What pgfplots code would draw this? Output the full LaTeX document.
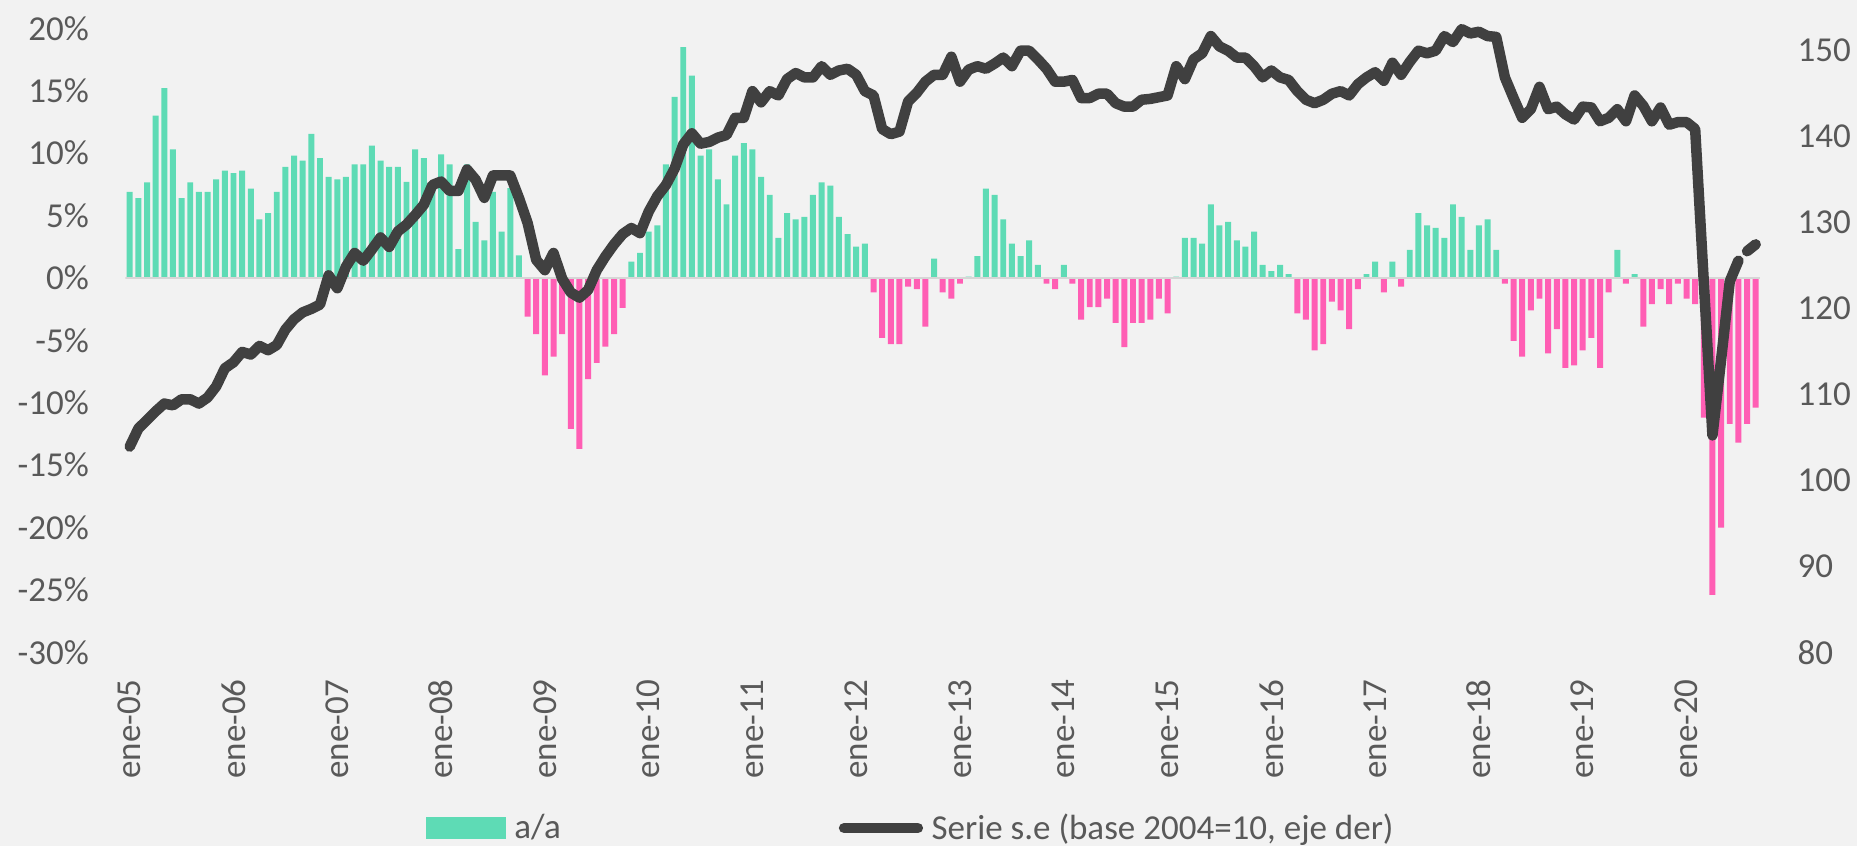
\documentclass[border=0pt]{standalone}
\usepackage{fontspec}
\setmainfont{Carlito}
\usepackage{pgfplots}
\usepackage{pgfplotstable}
\pgfplotsset{compat=1.18}

\definecolor{fondo}{HTML}{F2F2F2}
\definecolor{verde}{HTML}{5EDBB5}
\definecolor{rosa}{HTML}{FF5EB4}
\definecolor{linea}{HTML}{404040}
\definecolor{txt}{HTML}{595959}
\definecolor{cero}{HTML}{D6D6D6}

% variacion a/a (%), mes 0 = ene-05
\pgfplotstableread{
i v
0 6.9
1 6.4
2 7.65
3 13.0
4 15.2
5 10.3
6 6.4
7 7.65
8 6.9
9 6.9
10 7.9
11 8.6
12 8.4
13 8.6
14 7.15
15 4.7
16 5.2
17 6.9
18 8.9
19 9.8
20 9.4
21 11.55
22 9.6
23 8.1
24 7.9
25 8.1
26 9.1
27 9.1
28 10.6
29 9.4
30 8.9
31 8.9
32 7.7
33 10.3
34 9.6
35 7.2
36 9.9
37 9.1
38 2.3
39 9.1
40 4.5
41 3.0
42 6.9
43 3.7
44 7.2
45 1.8
46 -3.1
47 -4.5
48 -7.8
49 -6.3
50 -4.5
51 -12.1
52 -13.7
53 -8.1
54 -6.8
55 -5.5
56 -4.5
57 -2.4
58 1.3
59 2.0
60 3.7
61 4.2
62 9.1
63 14.5
64 18.5
65 16.2
66 9.8
67 10.3
68 7.9
69 5.9
70 9.8
71 10.8
72 10.3
73 8.1
74 6.65
75 3.2
76 5.2
77 4.7
78 4.9
79 6.65
80 7.65
81 7.4
82 4.9
83 3.5
84 2.5
85 2.75
86 -1.15
87 -4.8
88 -5.3
89 -5.3
90 -0.7
91 -0.9
92 -3.9
93 1.55
94 -1.15
95 -1.65
96 -0.45
97 0.1
98 1.75
99 7.15
100 6.65
101 4.7
102 2.75
103 1.75
104 3.0
105 1.05
106 -0.45
107 -0.9
108 1.05
109 -0.45
110 -3.35
111 -2.35
112 -2.35
113 -1.65
114 -3.6
115 -5.55
116 -3.6
117 -3.6
118 -3.35
119 -1.65
120 -2.85
121 0.1
122 3.2
123 3.2
124 2.75
125 5.9
126 4.2
127 4.5
128 3.0
129 2.5
130 3.7
131 1.05
132 0.55
133 1.05
134 0.3
135 -2.85
136 -3.35
137 -5.8
138 -5.3
139 -1.9
140 -2.6
141 -4.1
142 -0.9
143 0.3
144 1.3
145 -1.15
146 1.3
147 -0.7
148 2.25
149 5.2
150 4.2
151 4.0
152 3.2
153 5.9
154 4.9
155 2.25
156 4.2
157 4.7
158 2.25
159 -0.45
160 -5.05
161 -6.3
162 -2.6
163 -1.65
164 -6.05
165 -4.1
166 -7.2
167 -7.0
168 -5.8
169 -4.8
170 -7.2
171 -1.15
172 2.25
173 -0.45
174 0.3
175 -3.9
176 -2.1
177 -0.9
178 -2.1
179 -0.45
180 -1.65
181 -2.1
182 -11.2
183 -25.4
184 -20.0
185 -11.7
186 -13.2
187 -11.7
188 -10.4
}\aa

% serie s.e., eje derecho
\pgfplotstableread{
i v
0 103.9
1 106.0
2 107.0
3 108.0
4 108.9
5 108.7
6 109.4
7 109.4
8 108.9
9 109.6
10 110.9
11 113.0
12 113.7
13 114.9
14 114.6
15 115.6
16 115.1
17 115.7
18 117.5
19 118.7
20 119.5
21 119.9
22 120.4
23 123.8
24 122.3
25 124.8
26 126.4
27 125.5
28 126.8
29 128.2
30 127.1
31 128.9
32 129.7
33 130.8
34 132.0
35 134.3
36 134.7
37 133.6
38 133.6
39 136.1
40 134.9
41 132.8
42 135.4
43 135.4
44 135.4
45 132.8
46 129.9
47 125.6
48 124.4
49 126.4
50 123.4
51 121.8
52 121.2
53 122.1
54 124.4
55 126.0
56 127.4
57 128.6
58 129.3
59 128.7
60 131.2
61 133.0
62 134.3
63 136.2
64 139.0
65 140.3
66 139.1
67 139.3
68 139.8
69 140.1
70 142.1
71 142.1
72 145.2
73 143.9
74 145.2
75 144.7
76 146.6
77 147.3
78 146.8
79 146.8
80 148.1
81 147.1
82 147.6
83 147.8
84 147.1
85 145.2
86 144.7
87 140.8
88 140.2
89 140.5
90 144.0
91 145.0
92 146.3
93 147.1
94 147.1
95 149.2
96 146.3
97 147.7
98 148.1
99 147.8
100 148.4
101 149.1
102 148.1
103 149.9
104 149.9
105 148.9
106 147.8
107 146.3
108 146.3
109 146.5
110 144.4
111 144.4
112 144.9
113 144.9
114 143.8
115 143.4
116 143.4
117 144.2
118 144.3
119 144.5
120 144.7
121 148.1
122 146.6
123 148.9
124 149.6
125 151.6
126 150.4
127 149.9
128 149.1
129 149.1
130 148.1
131 146.8
132 147.6
133 146.8
134 146.5
135 145.2
136 144.2
137 143.8
138 144.2
139 144.9
140 145.2
141 144.7
142 146.0
143 146.8
144 147.4
145 146.4
146 148.5
147 147.1
148 148.6
149 149.9
150 149.6
151 149.9
152 151.6
153 150.9
154 152.4
155 151.9
156 152.1
157 151.6
158 151.5
159 146.8
160 144.4
161 142.1
162 143.1
163 145.7
164 143.1
165 143.4
166 142.5
167 141.9
168 143.4
169 143.3
170 141.7
171 142.1
172 143.1
173 141.7
174 144.7
175 143.5
176 141.7
177 143.3
178 141.3
179 141.6
180 141.6
181 140.8
182 123.0
183 105.2
184 114.0
185 123.1
186 125.5
187 126.6
188 127.4
}\serie

\pgfplotsset{
  marco/.style={
    scale only axis, width=653.84pt, height=249.6pt,
    xmin=-0.5, xmax=188.5,
    axis line style={draw=none}, tick style={draw=none},
    tick label style={font=\fontsize{14}{17}\selectfont, text=txt},
  },
}

\begin{document}
\begin{tikzpicture}
\path[fill=fondo, use as bounding box] (-50.16pt,-77.48pt) rectangle (692.64pt,260.92pt);

\begin{axis}[marco,
  ymin=-30, ymax=20,
  xtick={0,12,...,180},
  xticklabels={ene-05,ene-06,ene-07,ene-08,ene-09,ene-10,ene-11,ene-12,ene-13,ene-14,ene-15,ene-16,ene-17,ene-18,ene-19,ene-20},
  xticklabel style={rotate=90, anchor=east, inner sep=0pt},
  xticklabel shift=10.6pt,
  ytick={-30,-25,...,20},
  yticklabels={-30\%,-25\%,-20\%,-15\%,-10\%,-5\%,0\%,5\%,10\%,15\%,20\%},
  yticklabel style={anchor=east, inner sep=0pt},
  yticklabel shift=14.4pt,
  legend columns=2,
  legend style={at={(0.1837,-0.2817)}, anchor=west, draw=none, fill=none,
    inner sep=0pt, font=\fontsize{14}{17}\selectfont, text=txt,
    nodes={inner sep=0pt},
    /tikz/every odd column/.append style={column sep=3.2pt},
    /tikz/every even column/.append style={column sep=111pt}},
]
\addplot[ybar, bar width=0.69, bar shift=0pt, fill=verde, draw=none,
  restrict y to domain=0:30,
  legend image code/.code={\fill[verde] (0pt,-4.45pt) rectangle (32.1pt,4.45pt);}]
  table[x=i, y=v] {\aa};
\addlegendentry{a/a}
\addlegendimage{legend image code/.code={
  \path (0pt,0pt) -- (33.7pt,0pt);
  \draw[linea, line width=4.2pt, line cap=round] (2.1pt,0pt) -- (31.6pt,0pt);}}
\addlegendentry{Serie s.e (base 2004=10, eje der)}
\addplot[ybar, bar width=0.69, bar shift=0pt, fill=rosa, draw=none,
  restrict y to domain=-30:0, forget plot]
  table[x=i, y=v] {\aa};
\addplot[cero, line width=1.1pt, forget plot] coordinates {(-0.5,0) (188.5,0)};
\end{axis}

\begin{axis}[marco,
  ymin=80, ymax=152.5,
  axis x line=none, axis y line*=right,
  ytick={80,90,...,150},
  yticklabels={80,90,100,110,120,130,140,150},
  yticklabel style={anchor=west, inner sep=0pt},
  yticklabel shift=14.8pt,
  clip=false,
]
\addplot[linea, line width=4.2pt, line join=round, line cap=round,
  restrict x to domain=0:186] table[x=i, y=v] {\serie};
\addplot[linea, line width=4.2pt, line join=round, line cap=round,
  restrict x to domain=187:188] table[x=i, y=v] {\serie};
\end{axis}
\end{tikzpicture}
\end{document}
